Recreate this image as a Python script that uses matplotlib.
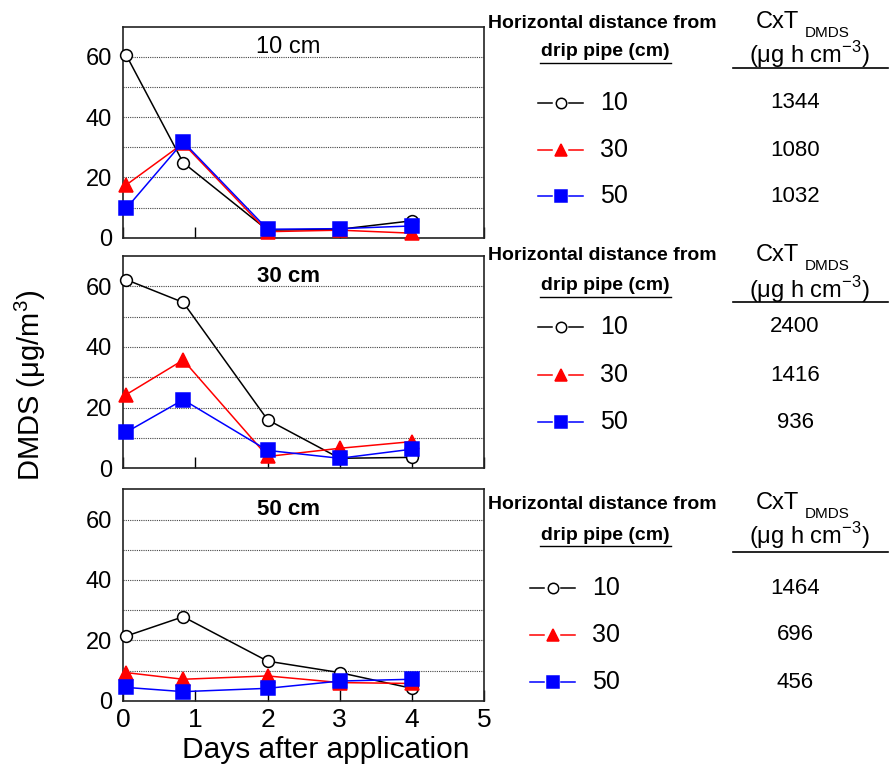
import numpy as np
import matplotlib
matplotlib.use("Agg")
import matplotlib.pyplot as plt
from matplotlib.lines import Line2D

plt.rcParams['font.family'] = ['Liberation Sans', 'DejaVu Sans']
plt.rcParams['mathtext.fontset'] = 'custom'
plt.rcParams['mathtext.rm'] = 'Liberation Sans'

W, H = 889, 767

# days after application
days = [0.04, 0.83, 2, 3, 4]

# DMDS concentration (ug/m3), one panel per depth, one series per horizontal distance
depth_titles = ['10 cm', '30 cm', '50 cm']
title_bold = [False, True, True]
dist_labels = ['10', '30', '50']

d10_h10 = [60.6, 24.9, 2.5, 2.8, 5.6]
d10_h30 = [17.5, 31.3, 2.0, 2.5, 1.5]
d10_h50 = [9.7, 31.8, 2.8, 3.0, 3.9]

d30_h10 = [62.2, 54.7, 16.0, 3.3, 3.6]
d30_h30 = [24.3, 35.7, 3.9, 6.6, 8.8]
d30_h50 = [11.9, 22.6, 5.9, 3.3, 6.3]

d50_h10 = [21.4, 27.8, 13.1, 9.3, 4.1]
d50_h30 = [9.3, 7.1, 8.2, 6.0, 5.7]
d50_h50 = [4.4, 3.0, 4.1, 6.5, 7.1]

panels = [[d10_h10, d10_h30, d10_h50],
          [d30_h10, d30_h30, d30_h50],
          [d50_h10, d50_h30, d50_h50]]

# CxT values per panel (ug h cm-3)
cxt_10cm = ['1344', '1080', '1032']
cxt_30cm = ['2400', '1416', '936']
cxt_50cm = ['1464', '696', '456']
cxt_all = [cxt_10cm, cxt_30cm, cxt_50cm]

styles = [dict(color='black', marker='o', mfc='white', mec='black', ms=8.5),
          dict(color='red', marker='^', mfc='red', mec='red', ms=10),
          dict(color='blue', marker='s', mfc='blue', mec='blue', ms=9.5)]


def fx(x):
    return x / W


def fy(y):
    return 1 - y / H


fig = plt.figure(figsize=(W / 100, H / 100), dpi=100)

# axes boxes in pixels: (top, bottom)
boxes = [(26.7, 237.7), (256, 468.3), (489.3, 700.7)]
left_px, right_px = 123.3, 484

# right side layout: header y, drip y, rule y, CxT y, paren y, legend x0, rows y
right_layout = [
    dict(h=23, d=52, r=68, c=22, p=55, lx=538, rows=[103, 150, 196]),
    dict(h=256, d=286, r=302, c=255, p=290, lx=538, rows=[327, 375, 422]),
    dict(h=505, d=535, r=552, c=503, p=536, lx=530, rows=[588, 635, 682]),
]

for i, series in enumerate(panels):
    top, bot = boxes[i]
    ax = fig.add_axes([fx(left_px), fy(bot), fx(right_px - left_px), (bot - top) / H])
    for vals, st in zip(series, styles):
        ax.plot(days, vals, color=st['color'], lw=1.1, marker=st['marker'],
                markerfacecolor=st['mfc'], markeredgecolor=st['mec'],
                markersize=st['ms'], markeredgewidth=1.1, clip_on=False, zorder=3)
    ax.set_xlim(0, 5)
    ax.set_ylim(0, 70)
    ax.set_yticks([0, 20, 40, 60])
    ax.set_yticks([10, 30, 50], minor=True)
    ax.grid(axis='y', which='both', color='#444444', linestyle=(0, (1, 1)), linewidth=0.8)
    ax.set_axisbelow(True)
    ax.set_xticks([0, 1, 2, 3, 4, 5])
    ax.tick_params(axis='x', direction='in', length=8, width=1, labelsize=19, pad=5)
    ax.tick_params(axis='y', which='both', length=0, labelsize=17, pad=8)
    if i < 2:
        ax.set_xticklabels([])
    for sp in ax.spines.values():
        sp.set_linewidth(1.2)
        sp.set_color('#222222')
    ax.text(0.458, 0.905, depth_titles[i], transform=ax.transAxes, ha='center', va='center',
            fontsize=16 if title_bold[i] else 17,
            fontweight='bold' if title_bold[i] else 'normal')
    if i == 2:
        ax.set_xlabel('Days after application', fontsize=21.5, ha='center', va='center')
        ax.xaxis.set_label_coords(0.562, -0.233)

    # right side table
    lay = right_layout[i]
    fig.text(fx(488), fy(lay['h']), 'Horizontal distance from', fontsize=14,
             fontweight='bold', ha='left', va='center')
    fig.text(fx(605), fy(lay['d']), 'drip pipe (cm)', fontsize=14,
             fontweight='bold', ha='center', va='center')
    fig.add_artist(Line2D([fx(540), fx(671)], [fy(lay['d'] + 11)] * 2, color='black', lw=1))
    fig.text(fx(756), fy(lay['c']), 'CxT', fontsize=17, ha='left', va='center')
    fig.text(fx(805), fy(lay['c'] + 11), 'DMDS', fontsize=11, ha='left', va='center')
    fig.text(fx(809), fy(lay['p']), '(μg h cm$^{\\mathregular{-3}}$)', fontsize=17,
             ha='center', va='center')
    fig.add_artist(Line2D([fx(733), fx(888)], [fy(lay['r'])] * 2, color='black', lw=1.2))

    for j, (yy, st) in enumerate(zip(lay['rows'], styles)):
        x0 = lay['lx']
        fig.add_artist(Line2D([fx(x0), fx(x0 + 14)], [fy(yy)] * 2, color=st['color'], lw=1.1))
        fig.add_artist(Line2D([fx(x0 + 31), fx(x0 + 45)], [fy(yy)] * 2, color=st['color'], lw=1.1))
        fig.add_artist(Line2D([fx(x0 + 22.5)], [fy(yy)], marker=st['marker'],
                              markerfacecolor=st['mfc'], markeredgecolor=st['mec'],
                              markersize=st['ms'] - 1, markeredgewidth=1.1, linestyle='none'))
        fig.text(fx(x0 + 62), fy(yy), dist_labels[j], fontsize=18, ha='left', va='center')
        fig.text(fx(795), fy(yy), cxt_all[i][j], fontsize=16, ha='center', va='center')

fig.text(fx(30), fy(385), 'DMDS (μg/m$^{\\mathregular{3}}$)', fontsize=21, rotation=90,
         ha='center', va='center')

fig.savefig('out.png', dpi=100)
